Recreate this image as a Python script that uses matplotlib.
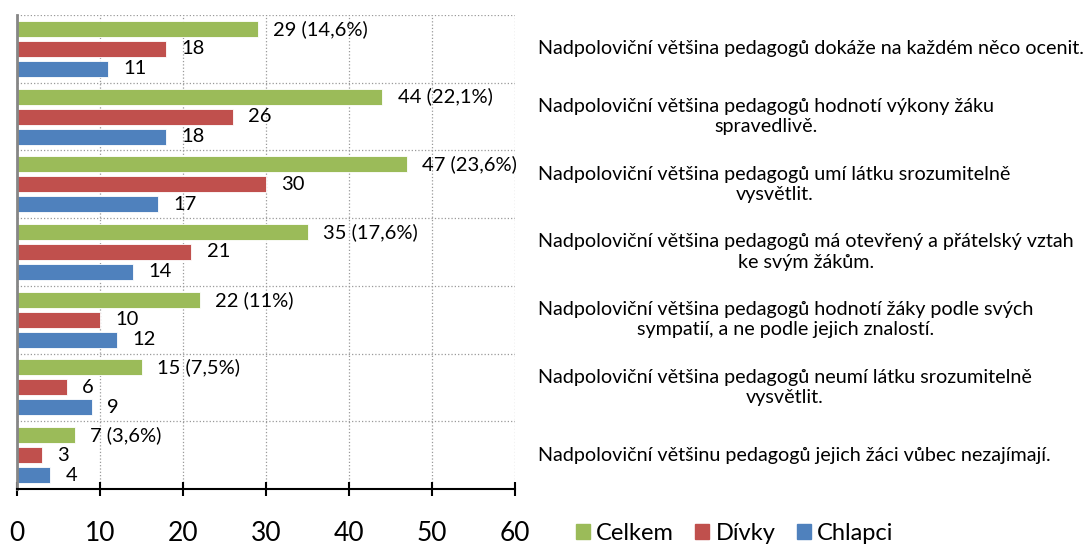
import matplotlib
matplotlib.use("Agg")
import matplotlib.pyplot as plt
import matplotlib.transforms as mtransforms
from matplotlib.patches import Patch

plt.rcParams["font.family"] = ["Lato", "DejaVu Sans"]

# statements, top to bottom
statements = [
    "Nadpoloviční většina pedagogů dokáže na každém něco ocenit.",
    "Nadpoloviční většina pedagogů hodnotí výkony žáku\nspravedlivě.",
    "Nadpoloviční většina pedagogů umí látku srozumitelně\nvysvětlit.",
    "Nadpoloviční většina pedagogů má otevřený a přátelský vztah\nke svým žákům.",
    "Nadpoloviční většina pedagogů hodnotí žáky podle svých\nsympatií, a ne podle jejich znalostí.",
    "Nadpoloviční většina pedagogů neumí látku srozumitelně\nvysvětlit.",
    "Nadpoloviční většinu pedagogů jejich žáci vůbec nezajímají.",
]
celkem = [29, 44, 47, 35, 22, 15, 7]
celkem_pct = ["14,6%", "22,1%", "23,6%", "17,6%", "11%", "7,5%", "3,6%"]
divky = [18, 26, 30, 21, 10, 6, 3]
chlapci = [11, 18, 17, 14, 12, 9, 4]
x_ticks = [0, 10, 20, 30, 40, 50, 60]

c_green = "#9BBB59"
c_red = "#C0504D"
c_blue = "#4F81BD"

fig = plt.figure(figsize=(10.85, 5.45), dpi=100)
ax = fig.add_axes([0.0157, 0.1028, 0.459, 0.8697])

n = len(statements)
ys = [n - 1 - i for i in range(n)]
off = 0.295
h = 0.236

ax.barh([y + off for y in ys], celkem, height=h, color=c_green, edgecolor="white", linewidth=0.6)
ax.barh(ys, divky, height=h, color=c_red, edgecolor="white", linewidth=0.6)
ax.barh([y - off for y in ys], chlapci, height=h, color=c_blue, edgecolor="white", linewidth=0.6)

fs_val = 14.5
for y, v, p in zip(ys, celkem, celkem_pct):
    ax.annotate(f"{v} ({p})", (v, y + off), xytext=(11, 0), textcoords="offset points",
                va="center", ha="left", fontsize=fs_val)
for y, v in zip(ys, divky):
    ax.annotate(str(v), (v, y), xytext=(11, 0), textcoords="offset points",
                va="center", ha="left", fontsize=fs_val)
for y, v in zip(ys, chlapci):
    ax.annotate(str(v), (v, y - off), xytext=(11, 0), textcoords="offset points",
                va="center", ha="left", fontsize=fs_val)

# statements on the right
trans = mtransforms.blended_transform_factory(fig.transFigure, ax.transData)
for y, s in zip(ys, statements):
    ax.text(0.496, y, s, transform=trans, ha="left", va="center",
            multialignment="center", fontsize=14.2, clip_on=False, linespacing=1.25)

ax.set_xlim(0, 60)
ax.set_ylim(-0.5, n - 0.5)
ax.set_xticks(x_ticks)
ax.set_yticks([])
ax.set_yticks([y + 0.5 for y in range(n)], minor=True)
ax.tick_params(axis="y", which="both", length=0)
ax.tick_params(axis="x", direction="inout", length=10, width=1.5, labelsize=19, pad=18)

ax.grid(axis="x", linestyle=":", color="#999999", linewidth=0.9)
ax.grid(axis="y", which="minor", linestyle=":", color="#999999", linewidth=0.9)
ax.set_axisbelow(True)

for s in ["top", "right"]:
    ax.spines[s].set_visible(False)
ax.spines["left"].set_color("#868686")
ax.spines["left"].set_linewidth(2)
ax.spines["bottom"].set_linewidth(1.5)

handles = [Patch(color=c_green, label="Celkem"),
           Patch(color=c_red, label="Dívky"),
           Patch(color=c_blue, label="Chlapci")]
fig.legend(handles=handles, loc="center", bbox_to_anchor=(0.677, 0.022), ncol=3,
           frameon=False, fontsize=17, handlelength=0.6, handleheight=0.6,
           handletextpad=0.25, columnspacing=0.9)

fig.savefig("out.png", dpi=100)
